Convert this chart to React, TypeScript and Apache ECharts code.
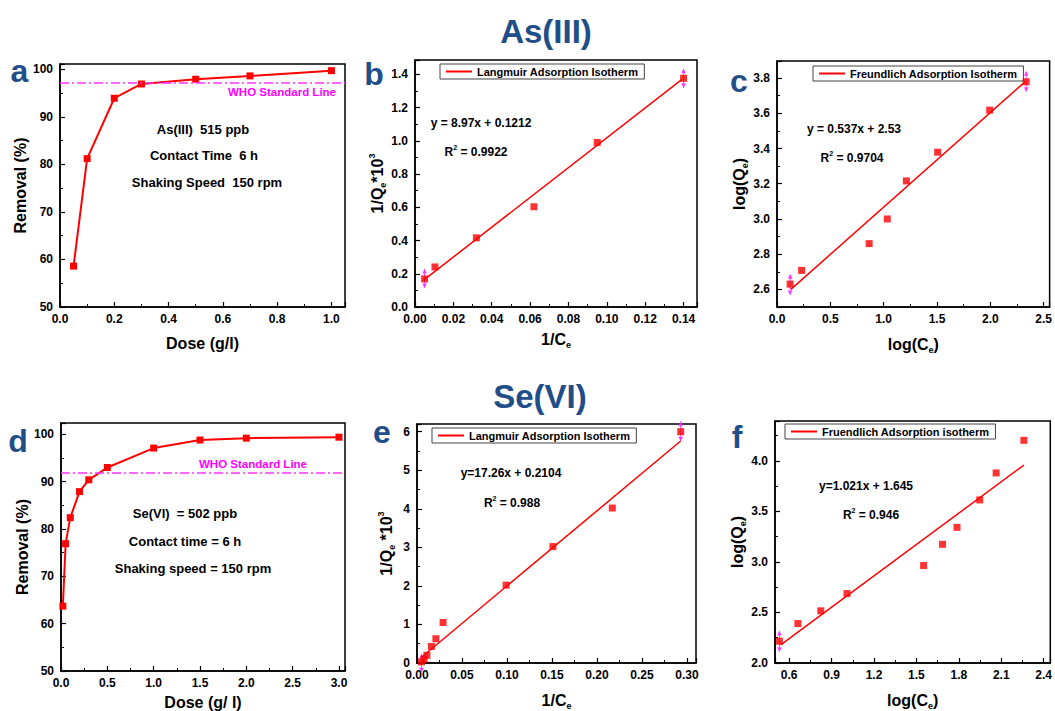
import React, { useEffect, useRef } from 'react';
import * as echarts from 'echarts';

// ---------- DATA ----------
// (a) As(III) removal vs dose
const doseA = [0.05, 0.1, 0.2, 0.3, 0.5, 0.7, 1.0];
const removalA = [58.6, 81.2, 93.9, 96.9, 97.9, 98.6, 99.7];
const whoA = 97.2;

// (b) As(III) Langmuir
const invCeB = [0.005, 0.0104, 0.032, 0.062, 0.095, 0.14];
const invQeB = [0.169, 0.241, 0.416, 0.603, 0.99, 1.376];
const fitBX = [0.005, 0.139];
const fitBY = [0.166, 1.368];
const errBX = [0.005, 0.14];
const errBLo = [0.111, 1.316];
const errBHi = [0.231, 1.436];

// (c) As(III) Freundlich
const logCeC = [0.123, 0.231, 0.864, 1.034, 1.213, 1.506, 1.994, 2.336];
const logQeC = [2.63, 2.708, 2.86, 3.0, 3.216, 3.379, 3.618, 3.779];
const fitCX = [0.13, 2.33];
const fitCY = [2.6, 3.781];
const errCX = [0.123, 2.336];
const errCLo = [2.566, 3.719];
const errCHi = [2.689, 3.842];

// (d) Se(VI) removal vs dose
const doseD = [0.02, 0.05, 0.1, 0.2, 0.3, 0.5, 1.0, 1.5, 2.0, 3.0];
const removalD = [63.7, 76.9, 82.4, 87.9, 90.4, 93.0, 97.1, 98.8, 99.2, 99.4];
const whoD = 91.8;

// (e) Se(VI) Langmuir
const invCeE = [0.005, 0.008, 0.011, 0.016, 0.021, 0.029, 0.099, 0.151, 0.217, 0.293];
const invQeE = [0.03, 0.1, 0.2, 0.43, 0.63, 1.05, 2.02, 3.02, 4.02, 6.0];
const fitEX = [0.005, 0.293];
const fitEY = [0.15, 5.76];
const errEX = [0.005, 0.293];
const errELo = [-0.25, 5.74];
const errEHi = [0.25, 6.28];

// (f) Se(VI) Freundlich
const logCeF = [0.531, 0.662, 0.824, 1.009, 1.551, 1.685, 1.787, 1.948, 2.064, 2.26];
const logQeF = [2.216, 2.39, 2.516, 2.687, 2.964, 3.174, 3.342, 3.613, 3.88, 4.203];
const fitFX = [0.54, 2.26];
const fitFY = [2.18, 3.958];
const errFX = [0.531];
const errFLo = [2.106];
const errFHi = [2.322];

// axis ranges: [min, max, step, decimals]
const axA = { x: [0, 1.05, 0.2, 1], y: [50, 101.1, 10, 0] };
const axB = { x: [0, 0.147, 0.02, 2], y: [0, 1.486, 0.2, 1] };
const axC = { x: [0, 2.556, 0.5, 1], y: [2.5, 3.897, 0.2, 1] };
const axD = { x: [0, 3.065, 0.5, 1], y: [50, 102.4, 10, 0] };
const axE = { x: [0, 0.31, 0.05, 2], y: [0, 6.2, 1, 0] };
const axF = { x: [0.5, 2.447, 0.3, 1], y: [2.0, 4.394, 0.5, 1] };

// ---------- STYLE ----------
const FONT = "'Liberation Sans', Arial, Helvetica, sans-serif";
const RED = '#ff0000';
const MAG = '#ff33ff';
const BLUE = '#1f4e89';

const GRIDS = [
  { left: 60, top: 64, width: 285, height: 243 },
  { left: 415, top: 60, width: 282, height: 247 },
  { left: 777, top: 61, width: 276, height: 246 },
  { left: 61, top: 423, width: 284, height: 250 },
  { left: 417, top: 424, width: 279, height: 244 },
  { left: 775, top: 421, width: 281, height: 247 },
];

const AXRICH = {
  m: { fontFamily: FONT, fontWeight: 'bold', fontSize: 16, color: '#000', lineHeight: 20 },
  sub: { fontFamily: FONT, fontWeight: 'bold', fontSize: 9, color: '#000', lineHeight: 9, verticalAlign: 'bottom' },
  sup: { fontFamily: FONT, fontWeight: 'bold', fontSize: 9, color: '#000', lineHeight: 9, verticalAlign: 'top' },
};

const zip = (xs: number[], ys: number[]) => xs.map((x, i) => [x, ys[i]]);

function axis(gi: number, pos: 'bottom' | 'left', cfg: number[], name: string, nameGap: number) {
  const [min, max, step, dec] = cfg;
  const isMult = (v: number) => Math.abs(v / step - Math.round(v / step)) < 1e-6;
  const a: any = {
    type: 'value',
    gridIndex: gi,
    position: pos,
    min,
    max,
    name,
    nameLocation: 'middle',
    nameGap,
    nameRotate: pos === 'left' ? 90 : 0,
    nameTextStyle: { fontFamily: FONT, fontWeight: 'bold', fontSize: 16, color: '#000', rich: AXRICH },
    axisLine: { show: true, onZero: false, lineStyle: { color: '#000', width: 1.5 } },
    axisTick: { show: true, inside: true, length: 5, lineStyle: { color: '#000', width: 1.2 } },
    minorTick: { show: true, splitNumber: 2, length: 3, lineStyle: { color: '#000', width: 1 } },
    splitLine: { show: false },
    minorSplitLine: { show: false },
    axisLabel: {
      fontFamily: FONT,
      fontWeight: 'bold',
      fontSize: 12,
      color: '#000',
      margin: pos === 'left' ? 7 : 6,
      showMinLabel: true,
      showMaxLabel: true,
      hideOverlap: false,
      formatter: (v: number) => (isMult(v) ? v.toFixed(dec) : ''),
    },
  };
  if (isMult(min)) a.interval = step;
  else {
    a.minInterval = step;
    a.maxInterval = step;
  }
  return a;
}

function errSeries(gi: number, xs: number[], lo: number[], hi: number[]) {
  return {
    type: 'custom',
    xAxisIndex: gi,
    yAxisIndex: gi,
    silent: true,
    clip: false,
    z: 1,
    data: xs.map((x, i) => [x, lo[i], hi[i]]),
    encode: { x: 0, y: [1, 2] },
    renderItem: (params: any, api: any) => {
      const x = api.value(0);
      const pLo = api.coord([x, api.value(1)]);
      const pHi = api.coord([x, api.value(2)]);
      const w = 2.2;
      const h = 5;
      return {
        type: 'group',
        children: [
          {
            type: 'line',
            shape: { x1: pLo[0], y1: pLo[1] - h, x2: pHi[0], y2: pHi[1] + h },
            style: { stroke: MAG, lineWidth: 1 },
          },
          {
            type: 'polygon',
            shape: { points: [[pHi[0], pHi[1]], [pHi[0] - w, pHi[1] + h], [pHi[0] + w, pHi[1] + h]] },
            style: { fill: MAG },
          },
          {
            type: 'polygon',
            shape: { points: [[pLo[0], pLo[1]], [pLo[0] - w, pLo[1] - h], [pLo[0] + w, pLo[1] - h]] },
            style: { fill: MAG },
          },
        ],
      };
    },
  };
}

function scatter(gi: number, xs: number[], ys: number[]) {
  return {
    type: 'scatter',
    xAxisIndex: gi,
    yAxisIndex: gi,
    data: zip(xs, ys),
    symbol: 'rect',
    symbolSize: 7,
    itemStyle: { color: RED },
    z: 3,
    clip: false,
  };
}

function fit(gi: number, name: string, xs: number[], ys: number[]) {
  return {
    type: 'line',
    name,
    xAxisIndex: gi,
    yAxisIndex: gi,
    data: zip(xs, ys),
    symbol: 'none',
    lineStyle: { color: RED, width: 1.5 },
    itemStyle: { color: RED },
    z: 2,
  };
}

function doseSeries(gi: number, xs: number[], ys: number[], who: number) {
  return {
    type: 'line',
    xAxisIndex: gi,
    yAxisIndex: gi,
    data: zip(xs, ys),
    symbol: 'rect',
    symbolSize: 7,
    itemStyle: { color: RED },
    lineStyle: { color: RED, width: 2 },
    z: 3,
    markLine: {
      silent: true,
      symbol: 'none',
      label: { show: false },
      lineStyle: { color: MAG, width: 1.5, type: [9, 3, 2, 3] },
      data: [{ yAxis: who }],
    },
  };
}

function legend(name: string, left: number, top: number) {
  return {
    data: [name],
    left,
    top,
    orient: 'horizontal',
    padding: [2, 6, 2, 6],
    borderColor: '#444',
    borderWidth: 1,
    borderRadius: 0,
    itemWidth: 26,
    itemHeight: 2,
    icon: 'rect',
    selectedMode: false,
    textStyle: { fontFamily: FONT, fontWeight: 'bold', fontSize: 11, color: '#000' },
  };
}

const GRICH = {
  m: { fontFamily: FONT, fontWeight: 'bold', fontSize: 12, fill: '#000', lineHeight: 16 },
  sup: { fontFamily: FONT, fontWeight: 'bold', fontSize: 7, fill: '#000', lineHeight: 7, verticalAlign: 'top' },
};

function txt(x: number, y: number, text: string, size: number, color = '#000', rich?: any) {
  const style: any = {
    text,
    fill: color,
    font: `bold ${size}px ${FONT}`,
    align: 'center',
    verticalAlign: 'middle',
  };
  if (rich) style.rich = rich;
  return { type: 'text', x, y, silent: true, style };
}

function buildOption(): any {
  const grid = GRIDS.map((g) => ({
    ...g,
    show: true,
    borderColor: '#000',
    borderWidth: 1.5,
    backgroundColor: 'transparent',
    containLabel: false,
  }));

  const xAxis = [
    axis(0, 'bottom', axA.x, '{m|Dose (g/l)}', 26),
    axis(1, 'bottom', axB.x, '{m|1/C}{sub|e}', 22),
    axis(2, 'bottom', axC.x, '{m|log(C}{sub|e}{m|)}', 27),
    axis(3, 'bottom', axD.x, '{m|Dose (g/ l)}', 21),
    axis(4, 'bottom', axE.x, '{m|1/C}{sub|e}', 27),
    axis(5, 'bottom', axF.x, '{m|log(C}{sub|e}{m|)}', 27),
  ];
  const yAxis = [
    axis(0, 'left', axA.y, '{m|Removal (%)}', 30),
    axis(1, 'left', axB.y, '{m|1/Q}{sub|e}{m|*10}{sup|3}', 25),
    axis(2, 'left', axC.y, '{m|log(Q}{sub|e}{m|)}', 26),
    axis(3, 'left', axD.y, '{m|Removal (%)}', 25),
    axis(4, 'left', axE.y, '{m|1/Q}{sub|e}{m| *10}{sup|3}', 21),
    axis(5, 'left', axF.y, '{m|log(Q}{sub|e}{m|)}', 27),
  ];

  const series = [
    doseSeries(0, doseA, removalA, whoA),
    errSeries(1, errBX, errBLo, errBHi),
    fit(1, 'Langmuir Adsorption Isotherm', fitBX, fitBY),
    scatter(1, invCeB, invQeB),
    errSeries(2, errCX, errCLo, errCHi),
    fit(2, 'Freundlich Adsorption Isotherm', fitCX, fitCY),
    scatter(2, logCeC, logQeC),
    doseSeries(3, doseD, removalD, whoD),
    errSeries(4, errEX, errELo, errEHi),
    fit(4, 'Langmuir Adsorption Isotherm', fitEX, fitEY),
    scatter(4, invCeE, invQeE),
    errSeries(5, errFX, errFLo, errFHi),
    fit(5, 'Fruendlich Adsorption isotherm', fitFX, fitFY),
    scatter(5, logCeF, logQeF),
  ];

  const graphic = [
    txt(546, 31, 'As(III)', 33, BLUE),
    txt(540, 396, 'Se(VI)', 33, BLUE),
    txt(19.5, 71, 'a', 32, BLUE),
    txt(374, 74, 'b', 32, BLUE),
    txt(739, 81, 'c', 32, BLUE),
    txt(18, 441, 'd', 32, BLUE),
    txt(382, 432, 'e', 32, BLUE),
    txt(737, 437, 'f', 32, BLUE),
    // panel a
    txt(282, 92, 'WHO Standard Line', 11.5, '#ff00ff'),
    txt(203, 129, 'As(III)  515 ppb', 13),
    txt(204, 155, 'Contact Time  6 h', 13),
    txt(207, 182, 'Shaking Speed  150 rpm', 13),
    // panel b
    txt(481, 123, 'y = 8.97x + 0.1212', 12),
    txt(476, 152, '{m|R}{sup|2}{m| = 0.9922}', 12, '#000', GRICH),
    // panel c
    txt(854, 129, 'y = 0.537x + 2.53', 12),
    txt(852, 158, '{m|R}{sup|2}{m| = 0.9704}', 12, '#000', GRICH),
    // panel d
    txt(253, 464, 'WHO Standard Line', 11.5, '#ff00ff'),
    txt(185, 513, 'Se(VI)  = 502 ppb', 13),
    txt(185, 541, 'Contact time = 6 h', 13),
    txt(193, 568, 'Shaking speed = 150 rpm', 13),
    // panel e
    txt(511, 473, 'y=17.26x + 0.2104', 12),
    txt(512, 503, '{m|R}{sup|2}{m| = 0.988}', 12, '#000', GRICH),
    // panel f
    txt(866, 486, 'y=1.021x + 1.645', 12),
    txt(871, 515, '{m|R}{sup|2}{m| = 0.946}', 12, '#000', GRICH),
  ];

  return {
    animation: false,
    backgroundColor: '#ffffff',
    textStyle: { fontFamily: FONT },
    grid,
    xAxis,
    yAxis,
    legend: [
      legend('Langmuir Adsorption Isotherm', 440, 64),
      legend('Freundlich Adsorption Isotherm', 813, 66),
      legend('Langmuir Adsorption Isotherm', 432, 428),
      legend('Fruendlich Adsorption isotherm', 785, 424),
    ],
    series,
    graphic,
  };
}

export default function App() {
  const ref = useRef<HTMLDivElement>(null);
  useEffect(() => {
    if (!ref.current) return;
    const chart = echarts.init(ref.current, null, { renderer: 'svg' });
    chart.setOption(buildOption());
    return () => chart.dispose();
  }, []);
  return (
    <div
      ref={ref}
      style={{ position: 'fixed', left: 0, top: 0, width: 1055, height: 711, background: '#fff' }}
    />
  );
}
